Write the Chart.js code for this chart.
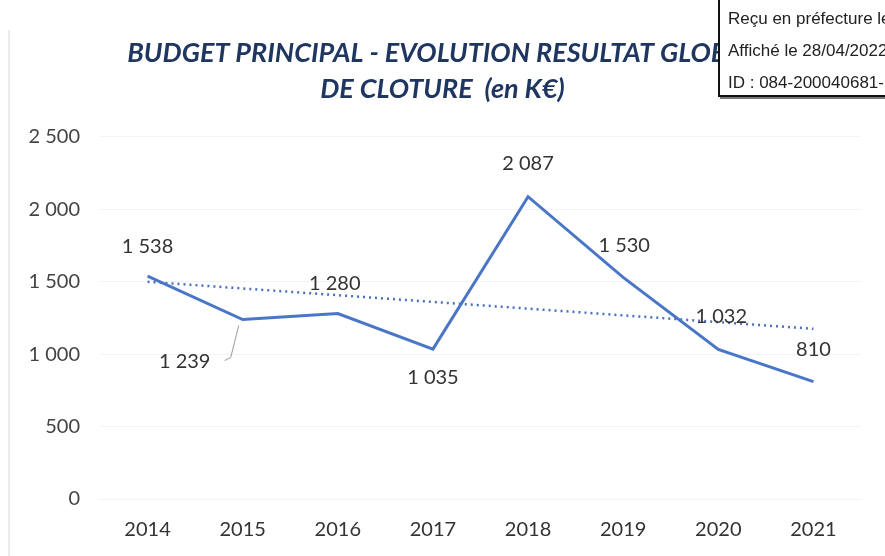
<!DOCTYPE html>
<html>
<head>
<meta charset="utf-8">
<script src="https://cdn.jsdelivr.net/npm/chart.js@4"></script>
<style>
  body { margin: 0; background: #fff; }
  #wrap { position: relative; width: 885px; height: 556px; overflow: hidden; }
  #frame { position: absolute; left: 8px; top: 30px; width: 0; height: 526px; border-left: 2px solid #ececec; }
  #stamp {
    position: absolute; left: 718px; top: -10px; width: 260px; height: 107px; box-sizing: border-box;
    border: 2px solid #111; background: #fff; box-shadow: 2px 2px 0 #777;
    font-family: "Liberation Sans", Arial, sans-serif; font-size: 17px; color: #222;
    padding: 11px 0 0 8px; line-height: 32px; white-space: nowrap;
  }
</style>
</head>
<body>
<div id="wrap">
  <div id="frame"></div>
  <canvas id="myChart" width="885" height="556"></canvas>
  <div id="stamp">Reçu en préfecture le<br>Affiché le 28/04/2022<br>ID : 084-200040681-</div>
</div>
<script>
// years on the x axis
var years = ['2014', '2015', '2016', '2017', '2018', '2019', '2020', '2021'];
// résultat global de clôture, K€
var resultat = [1538, 1239, 1280, 1035, 2087, 1530, 1032, 810];
// linear trend line, read at both ends
var tendance = [1500, null, null, null, null, null, null, 1175];
var yTicks = [0, 500, 1000, 1500, 2000, 2500];

function fmt(v) {
    return String(v).replace(/\B(?=(\d{3})+(?!\d))/g, ' ');
}

// point labels placed like the Excel ones (offsets in px from the point)
var labelPlugin = {
    id: 'pointLabels',
    afterDatasetsDraw(chart) {
        var ctx = chart.ctx;
        var meta = chart.getDatasetMeta(0);
        var offsets = [[0, -30], [-58, 42], [-3, -30], [0, 28], [0, -33], [1, -32], [3, -33], [0, -32]];
        ctx.save();
        ctx.font = '20px Lato';
        ctx.fillStyle = '#333';
        ctx.textAlign = 'center';
        ctx.textBaseline = 'middle';
        meta.data.forEach(function (pt, i) {
            var o = offsets[i];
            ctx.fillText(fmt(resultat[i]), pt.x + o[0], pt.y + o[1]);
        });
        // leader line for 2015
        var p = meta.data[1];
        ctx.strokeStyle = '#999';
        ctx.lineWidth = 1;
        ctx.beginPath();
        ctx.moveTo(p.x - 4, p.y + 6);
        ctx.lineTo(p.x - 12, p.y + 38);
        ctx.lineTo(p.x - 18, p.y + 41);
        ctx.stroke();
        ctx.restore();
    }
};

new Chart(document.getElementById('myChart').getContext('2d'), {
    type: 'line',
    data: {
        labels: years,
        datasets: [{
            data: resultat,
            borderColor: '#4a76c8',
            borderWidth: 3,
            pointRadius: 0,
            tension: 0,
            fill: false
        }, {
            data: tendance,
            borderColor: '#4a6fc0',
            borderWidth: 2.5,
            borderDash: [2, 4],
            pointRadius: 0,
            spanGaps: true,
            fill: false
        }]
    },
    options: {
        responsive: false,
        animation: false,
        layout: { padding: { left: 24, right: 24, top: 0, bottom: 0 } },
        plugins: {
            legend: { display: false },
            tooltip: { enabled: false },
            title: {
                display: true,
                text: ['BUDGET PRINCIPAL - EVOLUTION RESULTAT GLOBAL', 'DE CLOTURE  (en K€)'],
                color: '#1f3660',
                font: { family: 'Lato', size: 27, weight: 'bold', style: 'italic', lineHeight: 1.35 },
                padding: { top: 35, bottom: 29 }
            }
        },
        scales: {
            x: {
                offset: true,
                grid: { display: false },
                border: { display: false },
                ticks: { color: '#333', font: { family: 'Lato', size: 20 }, padding: 11 },
                afterFit: function (s) { s.height = 57; }
            },
            y: {
                min: 0,
                max: 2500,
                afterBuildTicks: function (s) { s.ticks = yTicks.map(function (v) { return { value: v }; }); },
                grid: { color: '#f3f3f3', drawTicks: false },
                border: { display: false },
                ticks: { color: '#444', font: { family: 'Lato', size: 20 }, padding: 20, callback: function (v) { return fmt(v); } },
                afterFit: function (s) { s.width = 76; }
            }
        }
    },
    plugins: [labelPlugin]
});
</script>
</body>
</html>
